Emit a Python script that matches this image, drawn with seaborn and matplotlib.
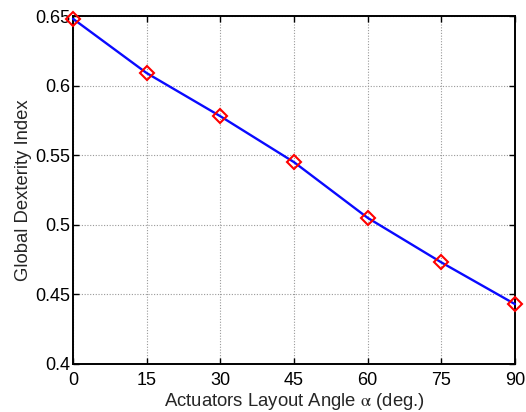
import matplotlib
matplotlib.use("Agg")
import matplotlib.pyplot as plt
import seaborn as sns
import pandas as pd

angles = [0, 15, 30, 45, 60, 75, 90]
gdi = [0.648, 0.609, 0.578, 0.545, 0.505, 0.473, 0.443]
xticks = [0, 15, 30, 45, 60, 75, 90]
yticks = [0.4, 0.45, 0.5, 0.55, 0.6, 0.65]
ytick_labels = ["0.4", "0.45", "0.5", "0.55", "0.6", "0.65"]

sns.set_style("white")
plt.rcParams['font.family'] = ['Liberation Sans', 'DejaVu Sans']
plt.rcParams['mathtext.fontset'] = 'stix'

df = pd.DataFrame({"angle": angles, "gdi": gdi})

fig = plt.figure(figsize=(5.26, 4.12), dpi=100)
ax = fig.add_axes([73/526, 1 - 364/412, (515-73)/526, (364-16)/412])

sns.lineplot(data=df, x="angle", y="gdi", ax=ax, color="#0a0aff", linewidth=1.7,
             marker="D", markersize=7, markerfacecolor="none",
             markeredgecolor="red", markeredgewidth=1.5, clip_on=False, zorder=3)

ax.set_xlim(0, 90)
ax.set_ylim(0.4, 0.65)
ax.set_xticks(xticks)
ax.set_yticks(yticks)
ax.set_yticklabels(ytick_labels)
ax.grid(True, linestyle=(0, (1, 1.5)), color="#999999", linewidth=0.8)
ax.tick_params(direction="in", length=4, width=1.0, labelsize=13,
               top=True, right=True, bottom=True, left=True, colors="black")
ax.tick_params(axis="x", pad=6)
ax.tick_params(axis="y", pad=2)
for s in ax.spines.values():
    s.set_color("black")
    s.set_linewidth(1.4)
ax.set_xlabel(r"Actuators Layout Angle $\mathrm{\alpha}$ (deg.)", fontsize=13.3, labelpad=1)
ax.set_ylabel("Global Dexterity Index", fontsize=13.3, labelpad=2)

fig.savefig("out.png", dpi=100)
